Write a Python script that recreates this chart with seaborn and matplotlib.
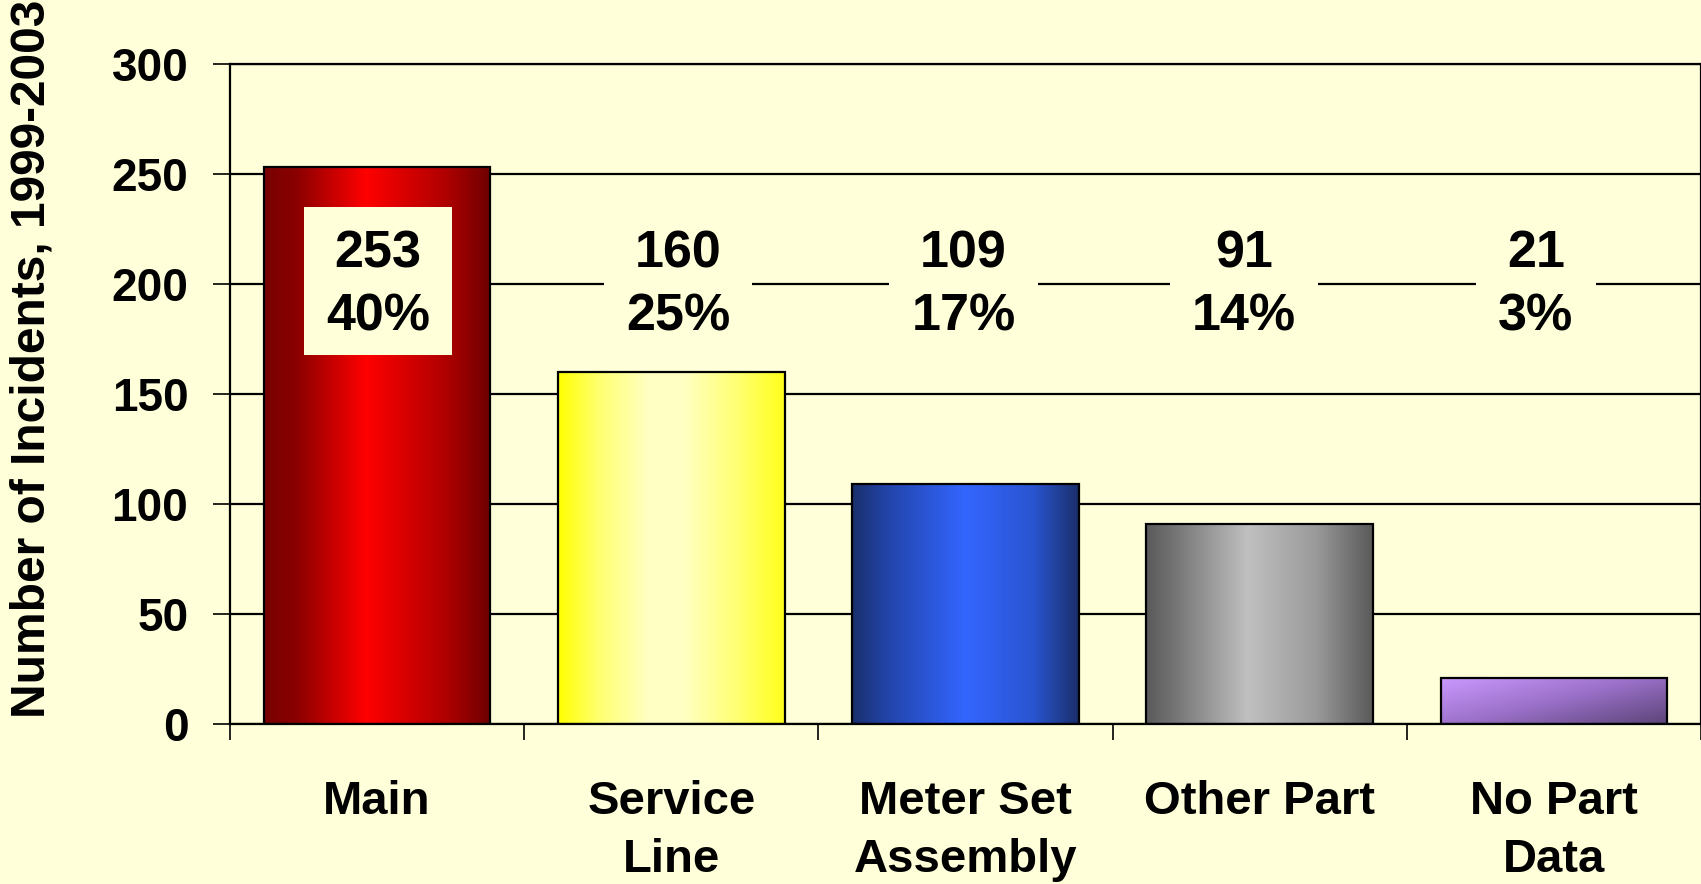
import matplotlib
matplotlib.use("Agg")
import matplotlib.pyplot as plt
from matplotlib.colors import LinearSegmentedColormap
from matplotlib.patches import Rectangle
from matplotlib.ticker import FixedLocator
import numpy as np
import pandas as pd
import seaborn as sns

# ---- data ----
categories = ["Main", "Service\nLine", "Meter Set\nAssembly", "Other Part", "No Part\nData"]
incidents = [253, 160, 109, 91, 21]
percent_labels = ["40%", "25%", "17%", "14%", "3%"]
y_ticks = [0, 50, 100, 150, 200, 250, 300]
y_label = "Number of Incidents, 1999-2003"

# ---- style ----
BG = "#FFFFDA"
sns.set_theme(style="white")
plt.rcParams["font.family"] = ["Liberation Sans", "DejaVu Sans"]
plt.rcParams["font.weight"] = "bold"

base_colors = ["#FF0000", "#FFFF66", "#3366FF", "#B0B0B0", "#B088E0"]
gradients = [
    [(0.0, "#780000"), (0.14, "#8A0000"), (0.45, "#FF0000"), (0.80, "#B00000"), (1.0, "#6E0000")],
    [(0.0, "#FFFF00"), (0.18, "#FFFF70"), (0.40, "#FFFFC4"), (0.55, "#FFFFC4"), (0.80, "#FFFF70"), (1.0, "#FFFF1A")],
    [(0.0, "#1A2F6C"), (0.15, "#2244A8"), (0.50, "#3366FF"), (0.80, "#2A55D0"), (1.0, "#1A2F6C")],
    [(0.0, "#5A5A5A"), (0.15, "#7A7A7A"), (0.45, "#C0C0C0"), (0.75, "#9A9A9A"), (1.0, "#5A5A5A")],
    [(0.0, "#CC99FF"), (0.5, "#9A70C8"), (1.0, "#5C4478")],
]

W, H = 1701, 884
fig = plt.figure(figsize=(W / 100, H / 100), dpi=100, facecolor=BG)
ax = fig.add_axes([230 / W, 1 - 724 / H, 1471 / W, 660 / H])
ax.set_facecolor(BG)

df = pd.DataFrame({"category": categories, "incidents": incidents})
sns.barplot(data=df, x="category", y="incidents", hue="category",
            palette=base_colors, width=0.77, edgecolor="black",
            linewidth=1.6, legend=False, ax=ax, zorder=2)

ax.set_xlim(-0.5, len(categories) - 0.5)
ax.set_ylim(0, 300)

# gradient fills clipped to each bar
for i, patch in enumerate(ax.patches):
    x0, y0 = patch.get_x(), patch.get_y()
    w, h = patch.get_width(), patch.get_height()
    cmap = LinearSegmentedColormap.from_list(f"g{i}", gradients[i])
    if i == 4:
        u = np.linspace(0, 1, 256)[None, :]
        v = np.linspace(0, 1, 64)[:, None]
        grad = 0.55 * u + 0.45 * v
    else:
        grad = np.linspace(0, 1, 512)[None, :]
    im = ax.imshow(grad, cmap=cmap, aspect="auto", extent=[x0, x0 + w, y0, y0 + h],
                   origin="upper", interpolation="bilinear", zorder=1.9)
    im.set_clip_path(patch)
    patch.set_facecolor("none")

# grid and spines
ax.set_axisbelow(True)
ax.yaxis.grid(True, color="black", linewidth=1.6)
ax.xaxis.grid(False)
for side in ["left", "bottom", "top", "right"]:
    ax.spines[side].set_visible(True)
    ax.spines[side].set_color("black")
    ax.spines[side].set_linewidth(1.6)

ax.set_yticks(y_ticks)
ax.set_yticklabels([str(t) for t in y_ticks], fontsize=33, fontweight="bold")
ax.tick_params(axis="y", direction="out", length=12, width=1.2, pad=18, colors="black", left=True)

ax.set_xticks(range(len(categories)))
ax.set_xticklabels(categories, fontsize=34, fontweight="bold", linespacing=1.42)
ax.tick_params(axis="x", which="major", length=0, pad=40, colors="black")
ax.xaxis.set_minor_locator(FixedLocator(np.arange(-0.5, len(categories), 1.0)))
ax.tick_params(axis="x", which="minor", direction="out", length=11.5, width=1.2,
               color="black", bottom=True)

ax.set_xlabel("")
ax.set_ylabel(y_label, fontsize=34.5, fontweight="bold", color="black")
ax.yaxis.set_label_coords(-0.119, 0.553)

# value labels with background boxes sized to the text
px_per_x = 1471 / len(categories)
px_per_y = 660 / 300
label_dx_px = [1, 7, -2, -16, -18]
box_y = 201.5
text_y = 199.3
box_h_px = 148
pad_px = 22
fig.canvas.draw()
renderer = fig.canvas.get_renderer()
for i, (val, pct) in enumerate(zip(incidents, percent_labels)):
    xc = i + label_dx_px[i] / px_per_x
    t = ax.text(xc, text_y, f"{val}\n{pct}", ha="center", va="center",
                fontsize=37.5, fontweight="bold", linespacing=1.38, zorder=4, color="black")
    tw = t.get_window_extent(renderer).width
    bw = (tw + 2 * pad_px) / px_per_x
    bh = box_h_px / px_per_y
    ax.add_patch(Rectangle((xc - bw / 2, box_y - bh / 2), bw, bh,
                           facecolor=BG, edgecolor="none", zorder=3))

fig.savefig("out.png", dpi=100, facecolor=BG)
